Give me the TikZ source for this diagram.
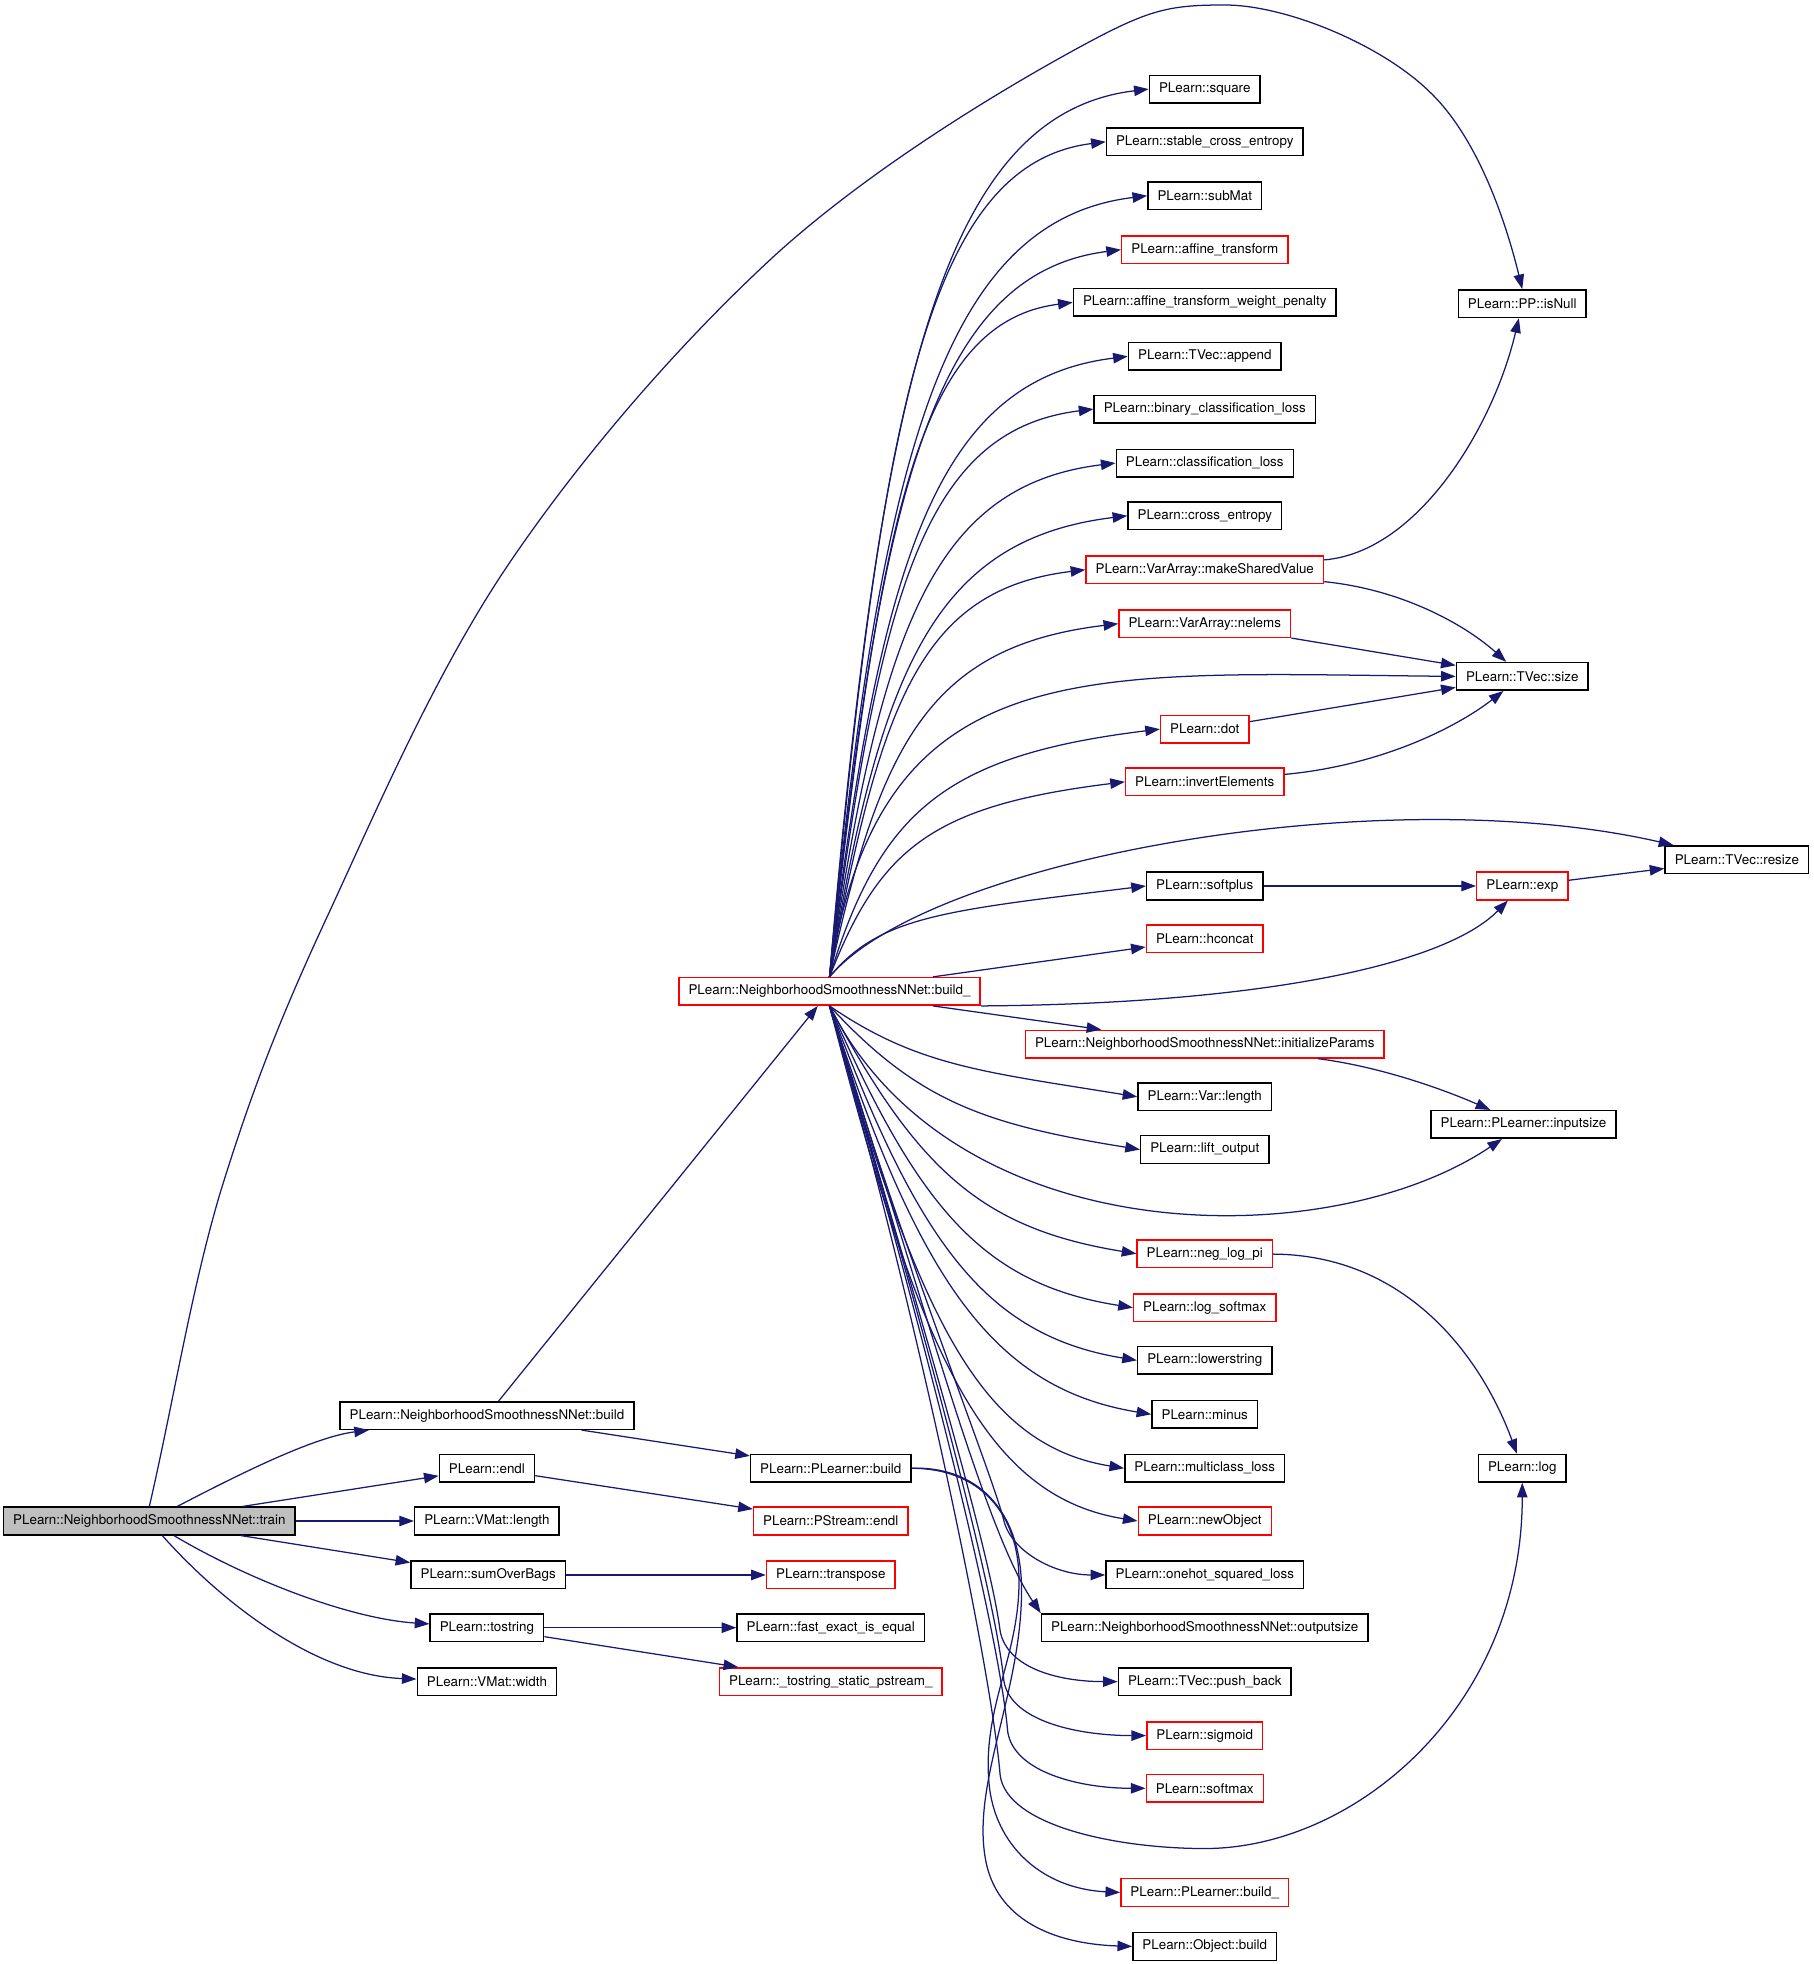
\documentclass[tikz,border=0pt]{standalone}
\usepackage{fontspec}
\setmainfont{TeX Gyre Heros}
\usetikzlibrary{arrows.meta}
\definecolor{edgeblue}{RGB}{25,25,112}
\definecolor{boxgray}{RGB}{191,191,191}

\begin{document}
\begin{tikzpicture}[x=0.6pt, y=0.6pt,
  fn/.style={draw=black, line width=0.7pt, font=\fontsize{6.4}{7}\selectfont, inner xsep=4.6pt, inner ysep=0pt, minimum height=13.2pt},
  trunc/.style={fn, draw=red},
  call/.style={draw=edgeblue, line width=0.6pt, -{Triangle[length=7pt, width=5pt]}}]
\useasboundingbox (0, 0) rectangle (1445, 1565);

\node[fn, fill=boxgray] at (119, 353) (train) {PLearn::NeighborhoodSmoothnessNNet::train};
\node[fn] at (388, 437) (nbuild) {PLearn::NeighborhoodSmoothnessNNet::build};
\node[fn] at (388, 395) (endl) {PLearn::endl};
\node[fn] at (388, 353) (vlength) {PLearn::VMat::length};
\node[fn] at (389, 310) (sumbags) {PLearn::sumOverBags};
\node[fn] at (388, 268) (tostr) {PLearn::tostring};
\node[fn] at (388, 225) (vwidth) {PLearn::VMat::width};
\node[fn] at (662, 395) (plbuild) {PLearn::PLearner::build};
\node[trunc] at (662, 353) (psendl) {PLearn::PStream::endl};
\node[trunc] at (662, 310) (transp) {PLearn::transpose};
\node[fn] at (662, 268) (fasteq) {PLearn::fast\_exact\_is\_equal};
\node[trunc] at (662, 225) (tspstream) {PLearn::\_tostring\_static\_pstream\_};
\node[trunc] at (661, 775) (nbuildu) {PLearn::NeighborhoodSmoothnessNNet::build\_};

\foreach \n/\y/\c/\txt in {square/1494/black/PLearn::square, stable/1452/black/PLearn::stable\_cross\_entropy,
  submat/1409/black/PLearn::subMat, affine/1366/red/PLearn::affine\_transform,
  affinew/1324/black/PLearn::affine\_transform\_weight\_penalty, append/1281/black/PLearn::TVec::append,
  binloss/1239/black/PLearn::binary\_classification\_loss, classloss/1196/black/PLearn::classification\_loss,
  crossent/1154/black/PLearn::cross\_entropy, mkshared/1111/red/PLearn::VarArray::makeSharedValue,
  nelems/1068/red/PLearn::VarArray::nelems, dot/984/red/PLearn::dot, invert/942/red/PLearn::invertElements,
  softplus/859/black/PLearn::softplus, hconcat/817/red/PLearn::hconcat,
  initp/733/red/PLearn::NeighborhoodSmoothnessNNet::initializeParams, varlen/691/black/PLearn::Var::length,
  lift/649/black/PLearn::lift\_output, neglog/566/red/PLearn::neg\_log\_pi, logsoft/523/red/PLearn::log\_softmax,
  lower/481/black/PLearn::lowerstring, minus/438/black/PLearn::minus, mcloss/395/black/PLearn::multiclass\_loss,
  newobj/353/red/PLearn::newObject, onehot/310/black/PLearn::onehot\_squared\_loss,
  outsize/268/black/PLearn::NeighborhoodSmoothnessNNet::outputsize, pushb/225/black/PLearn::TVec::push\_back,
  sigm/182/red/PLearn::sigmoid, softm/140/red/PLearn::softmax, plbuildu/57/red/PLearn::PLearner::build\_,
  objbuild/14/black/PLearn::Object::build}
  \node[fn, draw=\c] at (960, \y) (\n) {\txt};

\node[fn] at (1213, 1323) (isnull) {PLearn::PP::isNull};
\node[fn] at (1213, 1026) (tsize) {PLearn::TVec::size};
\node[trunc] at (1213, 859) (exp) {PLearn::exp};
\node[fn] at (1214, 669) (inputs) {PLearn::PLearner::inputsize};
\node[fn] at (1213, 395) (log) {PLearn::log};
\node[fn] at (1384, 880) (resize) {PLearn::TVec::resize};

\draw[call] (train.north) .. controls (138, 447) and (152, 535) .. (175, 613) .. controls (199, 691) and (221, 749) .. (260, 833)
  .. controls (299, 917) and (347, 1030) .. (407, 1118) .. controls (467, 1206) and (544, 1294) .. (618, 1362)
  .. controls (693, 1430) and (794, 1491) .. (854, 1524) .. controls (914, 1557) and (929, 1561) .. (976, 1561)
  .. controls (1024, 1561) and (1100, 1530) .. (1139, 1492) .. controls (1179, 1454) and (1201, 1384) .. (isnull.north);
\draw[call] (train) .. controls (190, 390) and (250, 420) .. (nbuild);
\draw[call] (train) -- (endl);
\draw[call] (train) -- (vlength);
\draw[call] (train) -- (sumbags);
\draw[call] (train) .. controls (200, 305) and (280, 275) .. (tostr);
\draw[call] (train) .. controls (175, 290) and (250, 230) .. (vwidth);
\draw[call] (nbuild) -- (nbuildu);
\draw[call] (nbuild) -- (plbuild);
\draw[call] (endl) -- (psendl);
\draw[call] (sumbags) -- (transp);
\draw[call] (tostr) -- (fasteq);
\draw[call] (tostr) -- (tspstream);

\foreach \t/\h/\l/\s in {square/467/166/20, stable/440/144/18, submat/411/164/20, affine/383/151/19,
  affinew/355/127/16, append/327/155/19, binloss/299/138/17, classloss/271/148/18, crossent/243/155/19,
  mkshared/215/133/16, nelems/186/150/18, dot/131/172/21, invert/103/153/19, softplus/48/164/20}
  \draw[call] (nbuildu.north) .. controls +(40, \h) and +(-\l, -\s) .. (\t.west);
\foreach \t/\h/\l/\s in {varlen/48/123/20, lift/76/124/20, neglog/131/123/20, logsoft/159/121/19,
  lower/187/122/20, minus/215/128/21, mcloss/244/117/19, newobj/271/125/20}
  \draw[call] (nbuildu.south) .. controls +(70, -\h) and +(-\l, \s) .. (\t.west);

\draw[call] (nbuildu.south) .. controls (720, 565) and (790, 393) .. (800, 353) .. controls (806, 329) and (840, 310) .. (onehot.west);
\draw[call] (nbuildu.south) .. controls (740, 515) and (785, 345) .. (outsize.north west);
\draw[call] (nbuildu.south) .. controls (725, 545) and (788, 335) .. (797, 265) .. controls (803, 235) and (845, 225) .. (pushb.west);
\draw[call] (nbuildu.south) .. controls (728, 535) and (792, 305) .. (800, 225) .. controls (806, 193) and (860, 182) .. (sigm.west);
\draw[call] (nbuildu.south) .. controls (730, 525) and (795, 275) .. (803, 185) .. controls (808, 153) and (860, 140) .. (softm.west);
\draw[call] (nbuildu.south) .. controls (732, 515) and (790, 235) .. (797, 150) .. controls (803, 110) and (890, 92) .. (960, 92)
  .. controls (1080, 92) and (1213, 205) .. (log);

\draw[call] (nbuildu.north) .. controls +(40, 260) and +(-300, 3) .. (tsize.west);
\draw[call] (nbuildu.north) .. controls (740, 880) and (1100, 945) .. (resize);
\draw[call] (nbuildu) -- (hconcat);
\draw[call] (nbuildu.south east) .. controls (1000, 765) and (1150, 795) .. (exp);
\draw[call] (nbuildu) -- (initp);
\draw[call] (nbuildu.south) .. controls (760, 565) and (1060, 565) .. (inputs);

\draw[call] (plbuild.east) .. controls (780, 395) and (812, 360) .. (812, 305) .. controls (812, 245) and (783, 205) .. (788, 145)
  .. controls (792, 95) and (830, 60) .. (plbuildu.west);
\draw[call] (plbuild.east) .. controls (775, 397) and (815, 365) .. (814, 295) .. controls (813, 215) and (775, 145) .. (785, 85)
  .. controls (793, 35) and (840, 16) .. (objbuild.west);

\draw[call] (mkshared) .. controls (1130, 1125) and (1190, 1225) .. (isnull);
\draw[call] (mkshared) .. controls (1120, 1095) and (1170, 1065) .. (tsize);
\draw[call] (nelems) -- (tsize);
\draw[call] (dot) -- (tsize);
\draw[call] (invert) .. controls (1100, 955) and (1160, 985) .. (tsize);
\draw[call] (softplus) -- (exp);
\draw[call] (exp) -- (resize);
\draw[call] (initp) .. controls (1100, 715) and (1150, 697) .. (inputs);
\draw[call] (neglog) .. controls (1120, 565) and (1180, 485) .. (log);

\end{tikzpicture}
\end{document}
